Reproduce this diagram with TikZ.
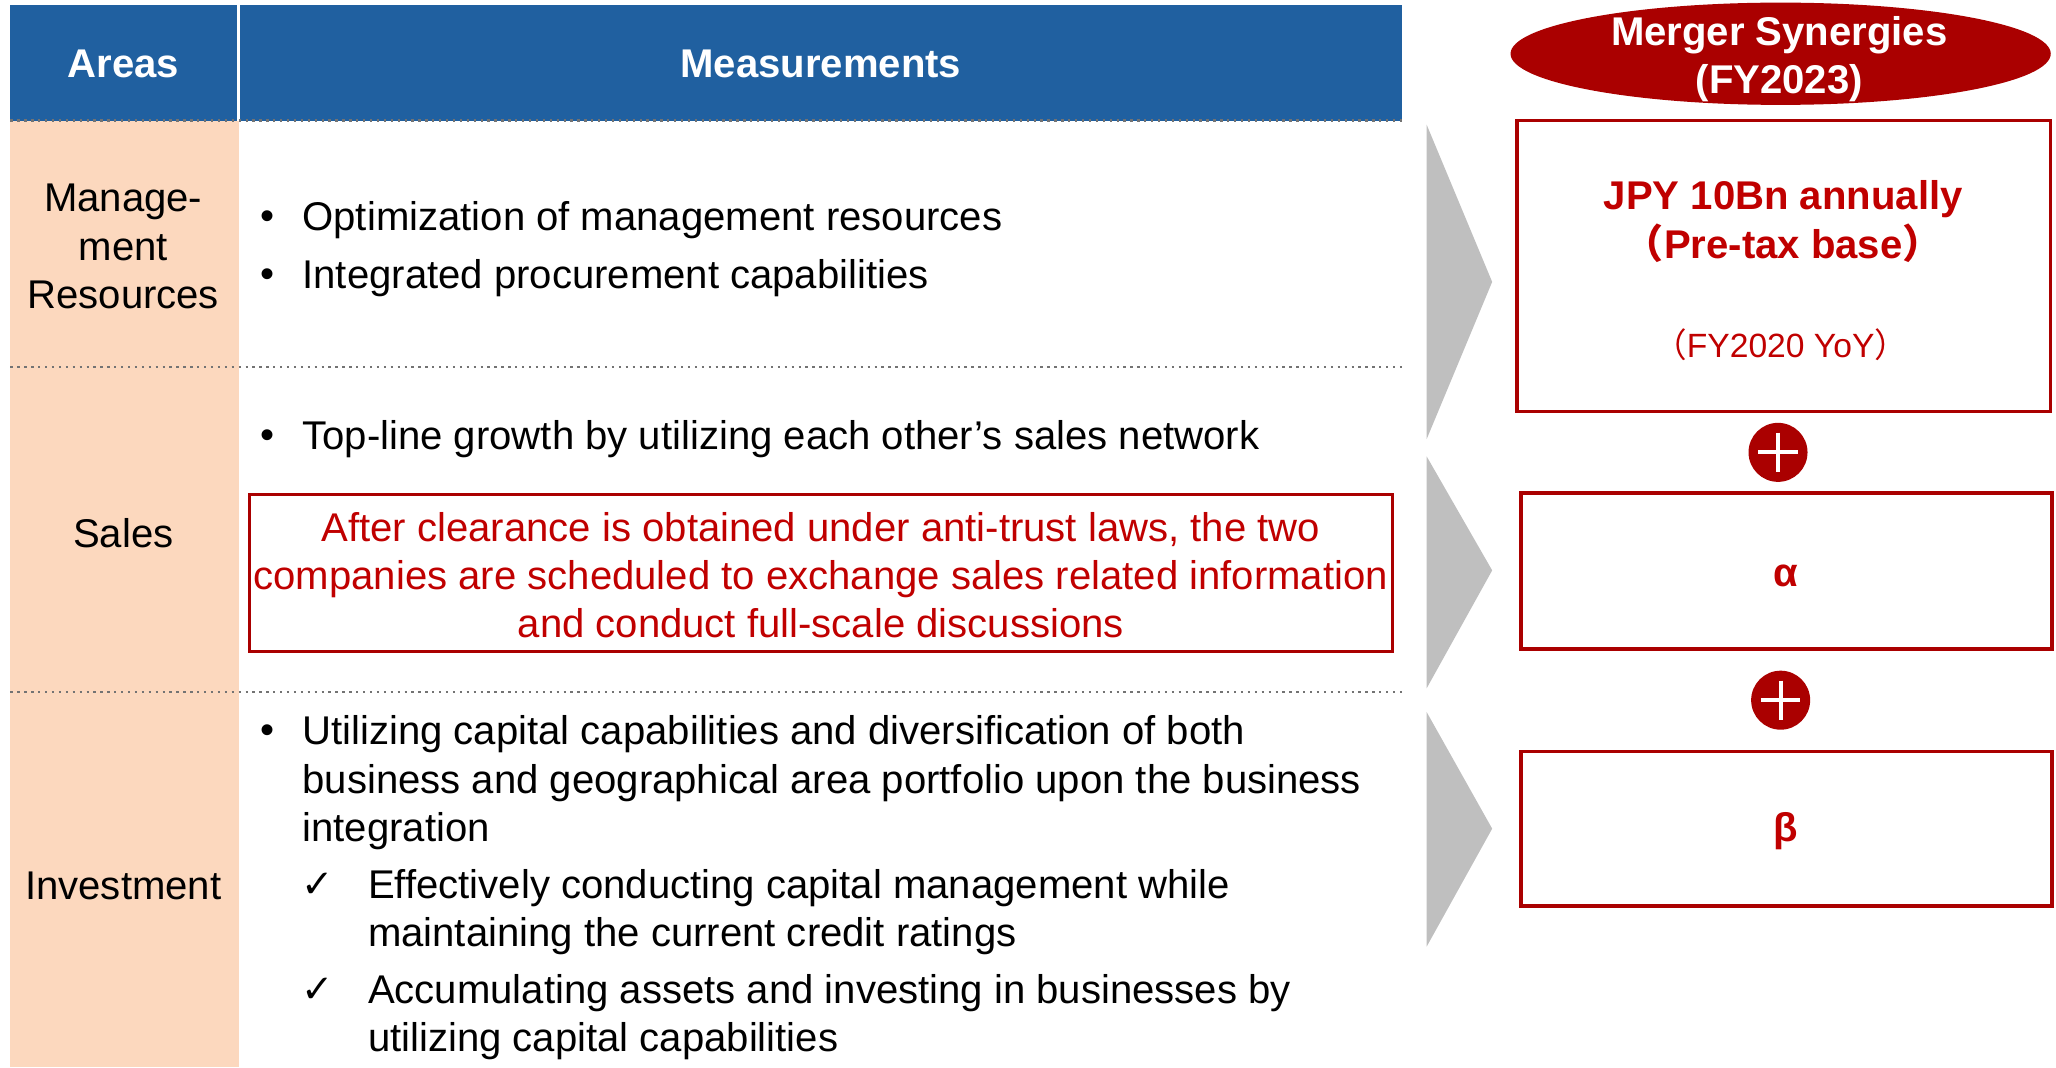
\documentclass[tikz,border=0pt]{standalone}
\usepackage{fontspec}
\setmainfont{Liberation Sans}
\newfontfamily\symfont{DejaVu Sans}
\newfontfamily\cjk{Noto Sans CJK JP}
\usetikzlibrary{shapes.geometric}
\definecolor{hdrblue}{RGB}{32,96,160}
\definecolor{areapeach}{RGB}{252,216,190}
\definecolor{synred}{RGB}{170,0,0}
\definecolor{txtred}{RGB}{192,0,0}
\definecolor{chevgray}{RGB}{191,191,191}
\newcommand{\txtsize}{\fontsize{8.7}{10.45}\selectfont}
\tikzset{
    hdr/.style = {text=white, font=\txtsize\bfseries, inner sep=0pt},
    area/.style = {align=center, font=\txtsize, inner sep=0pt},
    item/.style = {anchor=west, align=left, font=\txtsize, inner sep=0pt},
    bul/.style = {font=\txtsize, inner sep=0pt},
    tick/.style = {font=\symfont\fontsize{8.4}{10}\selectfont, inner sep=0pt},
    sep/.style = {black!55, densely dotted, line width=0.5pt},
    synbox/.style = {draw=synred, line width=0.75pt},
    plusmark/.style = {white, line width=0.9pt},
    chev/.style = {fill=chevgray},
}

\begin{document}
\begin{tikzpicture}[x=0.1mm, y=-0.1mm]
\useasboundingbox (0,0) rectangle (1568,814);

\fill[areapeach] (8,92) rectangle (182,814);
\fill[hdrblue] (8,4) rectangle (1069,92);
\draw[white, line width=0.6pt] (182,4) -- (182,92);
\foreach \y in {92,280,528}
    \draw[sep] (8,\y) -- (1069,\y);

\node[hdr] (areas) at (94,49) {Areas};
\node[hdr] (meas) at (626,49) {Measurements};

\node[area] (mgmt) at (94,188) {Manage-\\ment\\Resources};
\node[area] (sales) at (94,407) {Sales};
\node[area] (inv) at (94,676) {Investment};

\node[bul] (opt-b) at (204,168) {\textbullet};
\node[item] (opt) at (230,168) {Optimization of management resources};
\node[bul] (proc-b) at (204,212) {\textbullet};
\node[item] (proc) at (230,212) {Integrated procurement capabilities};

\node[bul] (top-b) at (204,335) {\textbullet};
\node[item] (top) at (230,335) {Top-line growth by utilizing each other’s sales network};
\draw[draw=synred, line width=0.6pt] (190,377) rectangle (1062,497);
\node[area, text=txtred] (note) at (626,438.5) {After clearance is obtained under anti-trust laws, the two\\companies are scheduled to exchange sales related information\\and conduct full-scale discussions};

\node[bul] (cap-b) at (204,560) {\textbullet};
\node[item] (cap) at (230,597) {Utilizing capital capabilities and diversification of both\\business and geographical area portfolio upon the business\\integration};
\node[tick] (rate-t) at (242,675) {✓};
\node[item] (rate) at (280,695.5) {Effectively conducting capital management while\\maintaining the current credit ratings};
\node[tick] (acc-t) at (242,755) {✓};
\node[item] (acc) at (280,775.5) {Accumulating assets and investing in businesses by\\utilizing capital capabilities};

\foreach \t/\m/\b in {95/215/335, 348/435/525, 543/632/722}
    \fill[chev] (1088,\t) -- (1138,\m) -- (1088,\b) -- cycle;

\fill[synred] (1358,41) ellipse [x radius=206, y radius=39];
\node[area, text=white, font=\txtsize\bfseries] (merger) at (1357,45) {Merger Synergies\\(FY2023)};

\draw[synbox] (1157,92) rectangle (1564,314);
\node[area, text=txtred, font=\txtsize\bfseries] (jpy) at (1360,169) {JPY 10Bn annually\\{\cjk （}Pre-tax base{\cjk ）}};
\node[area, text=txtred, font=\fontsize{7.3}{9}\selectfont] (yoy) at (1358,263) {{\cjk （}FY2020 YoY{\cjk ）}};

\fill[synred] (1356,345) circle [radius=22.5];
\draw[plusmark] (1341,345) -- (1371,345) (1356,330) -- (1356,360);

\draw[synbox] (1160,376) rectangle (1565,495);
\node[area, text=txtred, font=\txtsize\bfseries] (alpha) at (1362,439) {α};

\fill[synred] (1358,534) circle [radius=22.5];
\draw[plusmark] (1343,534) -- (1373,534) (1358,519) -- (1358,549);

\draw[synbox] (1160,573) rectangle (1565,691);
\node[area, text=txtred, font=\txtsize\bfseries] (beta) at (1362,634) {β};
\end{tikzpicture}
\end{document}
